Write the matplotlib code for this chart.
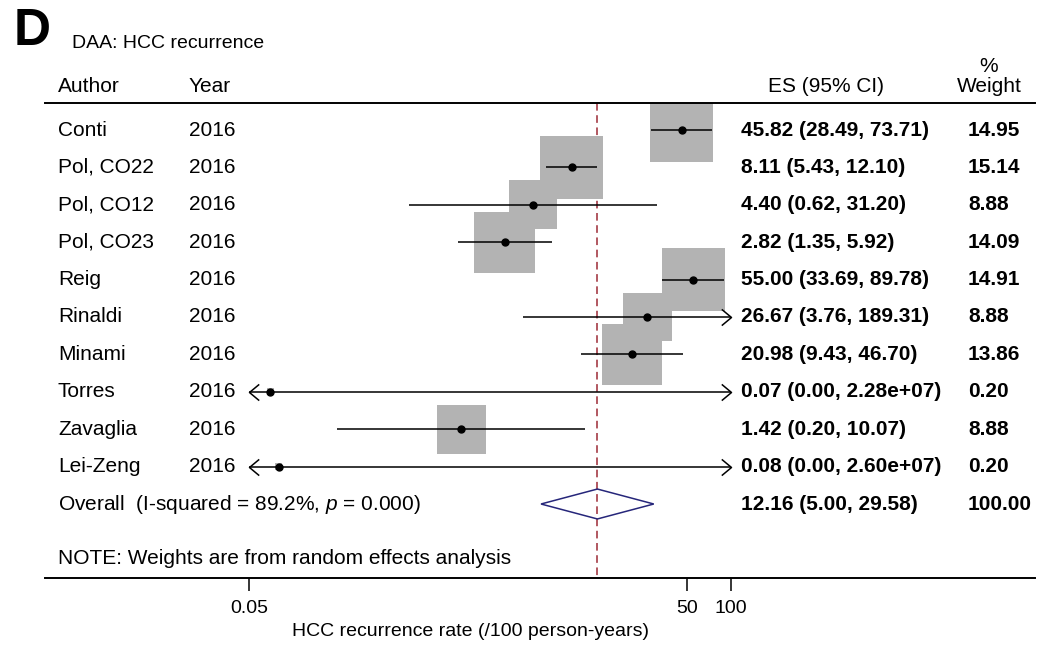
import numpy as np
import matplotlib
matplotlib.use("Agg")
import matplotlib.pyplot as plt
from matplotlib.path import Path
from matplotlib.patches import Polygon
from matplotlib.transforms import blended_transform_factory

plt.rcParams['font.family'] = ['Liberation Sans', 'DejaVu Sans']
plt.rcParams['mathtext.fontset'] = 'custom'
plt.rcParams['mathtext.it'] = 'Liberation Sans:italic'
plt.rcParams['mathtext.rm'] = 'Liberation Sans'

# study data
authors = ['Conti', 'Pol, CO22', 'Pol, CO12', 'Pol, CO23', 'Reig',
           'Rinaldi', 'Minami', 'Torres', 'Zavaglia', 'Lei-Zeng']
years = [2016, 2016, 2016, 2016, 2016, 2016, 2016, 2016, 2016, 2016]
es = [45.82, 8.11, 4.40, 2.82, 55.00, 26.67, 20.98, 0.07, 1.42, 0.08]
lo = [28.49, 5.43, 0.62, 1.35, 33.69, 3.76, 9.43, 0.00, 0.20, 0.00]
hi = [73.71, 12.10, 31.20, 5.92, 89.78, 189.31, 46.70, 2.28e7, 10.07, 2.60e7]
weights = [14.95, 15.14, 8.88, 14.09, 14.91, 8.88, 13.86, 0.20, 8.88, 0.20]

overall_es = 12.16
overall_lo = 5.00
overall_hi = 29.58
overall_weight = 100.00
overall_label = 'Overall  (I-squared = 89.2%, $\\it{p}$ = 0.000)'

xticks = [0.05, 50, 100]
xtick_labels = ['0.05', '50', '100']
xmin, xmax = 0.05, 100


def fmt(v):
    return f"{v:.2e}" if v >= 1e5 else f"{v:.2f}"


W, H = 1043, 648
fig = plt.figure(figsize=(W / 100, H / 100), dpi=100)
ax = fig.add_axes([249 / W, 1 - 578 / H, 482 / W, 475 / H])
ax.set_xscale('log')
ax.set_xlim(xmin, xmax)
row_h = 37.4
y0 = 130  # pixel row of first study
ax.set_ylim((578 - y0) / row_h, (103 - y0) / row_h)
for s in ax.spines.values():
    s.set_visible(False)
ax.set_yticks([])
ax.set_xticks(xticks)
ax.set_xticklabels(xtick_labels)
ax.minorticks_off()
ax.tick_params(axis='x', direction='out', length=9.5, width=1.1, pad=6, labelsize=14)

n = len(authors)
rows = np.arange(n)

# vertical line at the pooled estimate
ax.plot([overall_es, overall_es], [ax.get_ylim()[1], ax.get_ylim()[0]],
        color='#9c2a35', lw=1.1, ls=(0, (5, 3)), zorder=1, clip_on=False)

# weight boxes (area proportional to weight)
ax.scatter(es, rows, s=np.array(weights) * 138, marker='s', color='#b3b3b3',
           edgecolors='none', zorder=2)

right_chev = Path([(-1.2, 1), (0, 0), (-1.2, -1)], [Path.MOVETO, Path.LINETO, Path.LINETO])
left_chev = Path([(1.2, 1), (0, 0), (1.2, -1)], [Path.MOVETO, Path.LINETO, Path.LINETO])

for i in range(n):
    a = max(lo[i], xmin)
    b = min(hi[i], xmax)
    ax.plot([a, b], [i, i], color='black', lw=1.1, zorder=3, solid_capstyle='butt')
    if lo[i] < xmin:
        ax.plot([xmin], [i], marker=left_chev, ms=14, mfc='none', mec='black',
                mew=1.1, clip_on=False, zorder=3)
    if hi[i] > xmax:
        ax.plot([xmax], [i], marker=right_chev, ms=14, mfc='none', mec='black',
                mew=1.1, clip_on=False, zorder=3)
ax.plot(es, rows, 'o', color='black', ms=5, zorder=4)

# overall diamond
yo = n
diamond = Polygon([(overall_lo, yo), (overall_es, yo - 0.4), (overall_hi, yo),
                   (overall_es, yo + 0.4)], closed=True, fill=False,
                  edgecolor='#26267a', lw=1.1, zorder=4)
ax.add_patch(diamond)

# text columns
tr = blended_transform_factory(fig.transFigure, ax.transData)
fs = 15
x_auth, x_year, x_es, x_w = 58 / W, 189 / W, 741 / W, 968 / W
for i in range(n):
    ax.text(x_auth, i, authors[i], transform=tr, va='center', fontsize=fs)
    ax.text(x_year, i, str(years[i]), transform=tr, va='center', fontsize=fs)
    ax.text(x_es, i, f"{es[i]:.2f} ({lo[i]:.2f}, {fmt(hi[i])})", transform=tr,
            va='center', fontsize=fs, fontweight='bold')
    ax.text(x_w, i, f"{weights[i]:.2f}", transform=tr, va='center', fontsize=fs,
            fontweight='bold')
ax.text(x_auth, yo, overall_label, transform=tr, va='center', fontsize=fs)
ax.text(x_es, yo, f"{overall_es:.2f} ({overall_lo:.2f}, {overall_hi:.2f})",
        transform=tr, va='center', fontsize=fs, fontweight='bold')
ax.text(x_w, yo, f"{overall_weight:.2f}", transform=tr, va='center', fontsize=fs,
        fontweight='bold')
ax.text(x_auth, (558 - y0) / row_h, 'NOTE: Weights are from random effects analysis',
        transform=tr, va='center', fontsize=fs)

# header
fig.text(x_auth, 1 - 87 / H, 'Author', va='center', fontsize=fs)
fig.text(x_year, 1 - 87 / H, 'Year', va='center', fontsize=fs)
fig.text(826 / W, 1 - 87 / H, 'ES (95% CI)', va='center', ha='center', fontsize=fs)
fig.text(989 / W, 1 - 87 / H, 'Weight', va='center', ha='center', fontsize=fs)
fig.text(989 / W, 1 - 66 / H, '%', va='center', ha='center', fontsize=fs)

# x axis title
fig.text(471 / W, 1 - 632 / H, 'HCC recurrence rate (/100 person-years)',
         va='center', ha='center', fontsize=14)

# rules
fig.add_artist(plt.Line2D([45 / W, 1035 / W], [1 - 103 / H, 1 - 103 / H],
                          color='black', lw=1.4))
fig.add_artist(plt.Line2D([45 / W, 1035 / W], [1 - 578 / H, 1 - 578 / H],
                          color='black', lw=1.4))

# panel title
fig.text(14 / W, 1 - 45 / H, 'D', fontsize=37, fontweight='bold', va='baseline')
fig.text(72 / W, 1 - 48 / H, 'DAA: HCC recurrence', fontsize=14, va='baseline')

fig.savefig('out.png', dpi=100)
